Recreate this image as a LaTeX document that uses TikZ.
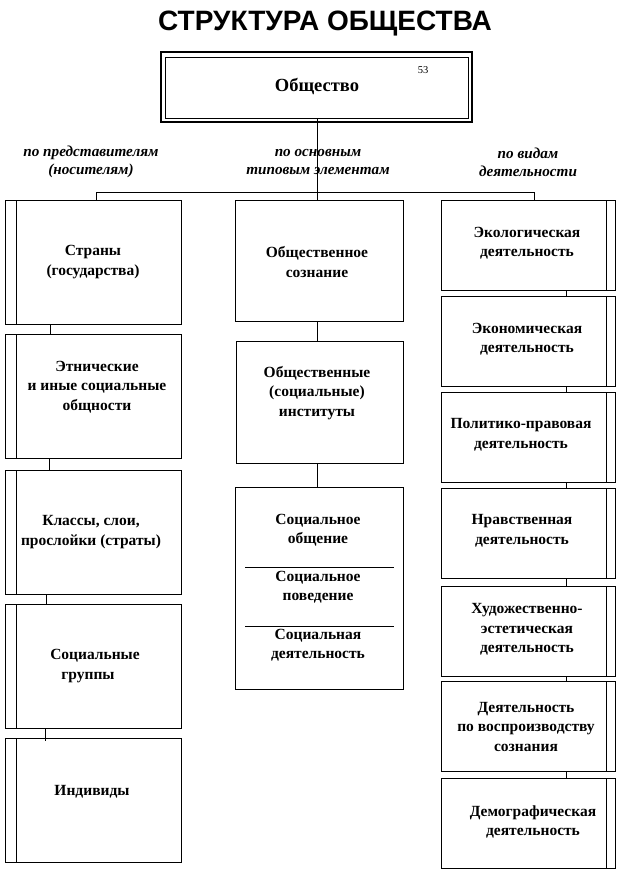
\documentclass[tikz,border=0pt]{standalone}
\usepackage{fontspec}
\setmainfont{Liberation Serif}
\setsansfont{Liberation Sans}
\begin{document}
\begin{tikzpicture}[x=1pt,y=-1pt,
  line width=0.9pt,
  lbl/.style={font=\fontsize{15.5}{19.5}\selectfont\bfseries, align=center, inner sep=0pt},
  cat/.style={font=\fontsize{15.2}{18}\selectfont\itshape\bfseries, align=center, inner sep=0pt},
  bx/.style={draw, line width=0.9pt}
]
\useasboundingbox (0,0) rectangle (623,873);
% title
\node[font=\fontsize{28}{32}\selectfont\sffamily\bfseries, inner sep=0pt] (title) at (325,24) {СТРУКТУРА ОБЩЕСТВА};
% main box
\draw[line width=2.4pt] (161,52) rectangle (472,122);
\node[draw, line width=0.9pt, minimum width=303pt, minimum height=61pt, inner sep=0pt] (soc) at (316.5,87.5) {};
\node[lbl, font=\fontsize{18.5}{22}\selectfont\bfseries] (soct) at (317,86) {Общество};
\node[font=\fontsize{10.5}{11}\selectfont, inner sep=0pt] (n53) at (423,70) {53};
% category labels
\node[cat] (c1) at (91,162) {по представителям\\(носителям)};
\node[cat] (c2) at (318,162) {по основным\\типовым элементам};
\node[cat] (c3) at (528,162) {по видам\\деятельности};
% left column boxes
\foreach \i/\t in {1/200,2/334,3/470,4/604,5/738}{
  \node[bx, minimum width=176pt, minimum height=124pt, inner sep=0pt] (L\i) at (93,\t+62) {};
  \draw (16,\t) -- (16,\t+124);
}
\node[lbl] at (93,262) {Страны\\(государства)};
\node[lbl] at (97,387) {Этнические\\и иные социальные\\общности};
\node[lbl] at (91,532) {Классы, слои,\\прослойки (страты)};
\node[lbl] at (95,666) {Социальные\\группы\hspace*{14pt}};
\node[lbl] at (92,792) {Индивиды};
% center column
\node[bx, minimum width=168pt, minimum height=121pt, inner sep=0pt] (C1) at (319,260.5) {};
\node[bx, minimum width=167pt, minimum height=122pt, inner sep=0pt] (C2) at (319.5,402) {};
\node[bx, minimum width=168pt, minimum height=202pt, inner sep=0pt] (C3) at (319,588) {};
\node[lbl] at (317,262) {Общественное\\сознание};
\node[lbl] at (317,393) {Общественные\\(социальные)\\институты};
\node[lbl] at (318,530) {Социальное\\общение};
\node[lbl] at (318,587) {Социальное\\поведение};
\node[lbl] at (318,645) {Социальная\\деятельность};
\coordinate (d1a) at (245,567); \coordinate (d1b) at (394,567);
\coordinate (d2a) at (245,626); \coordinate (d2b) at (394,626);
\draw (d1a) -- (d1b);
\draw (d2a) -- (d2b);
% right column
\foreach \i/\t in {1/200,2/296,3/392,4/488,5/586,6/681,7/778}{
  \node[bx, minimum width=174pt, minimum height=90pt, inner sep=0pt] (R\i) at (528,\t+45) {};
  \draw (606,\t) -- (606,\t+90);
}
\node[lbl] at (527,243) {Экологическая\\деятельность};
\node[lbl] at (527,339) {Экономическая\\деятельность};
\node[lbl] at (521,435) {Политико-правовая\\деятельность};
\node[lbl] at (522,531) {Нравственная\\деятельность};
\node[lbl] at (527,629.5) {Художественно-\\эстетическая\\деятельность};
\node[lbl] at (526,726.5) {Деятельность\\по воспроизводству\\сознания};
\node[lbl] at (533,822) {Демографическая\\деятельность};
% connectors
\coordinate (hl) at (96,192);
\coordinate (hr) at (534,192);
\draw (soc.south -| 317,0) -- (C1.north -| 317,0);
\draw (hl) -- (hr);
\draw (hl) -- (L1.north -| hl);
\draw (hr) -- (R1.north -| hr);
\draw (L1.south -| 50,0) -- (L2.north -| 50,0);
\draw (L2.south -| 49,0) -- (L3.north -| 49,0);
\draw (L3.south -| 46,0) -- (L4.north -| 46,0);
\draw (L4.south -| 45,0) -- ([yshift=-3pt]L5.north -| 45,0);
\draw (C1.south -| 317,0) -- (C2.north -| 317,0);
\draw (C2.south -| 317,0) -- (C3.north -| 317,0);
\foreach \a/\b in {1/2,2/3,3/4,4/5,5/6,6/7}{
  \draw (R\a.south -| 566,0) -- (R\b.north -| 566,0);
}
\end{tikzpicture}
\end{document}
